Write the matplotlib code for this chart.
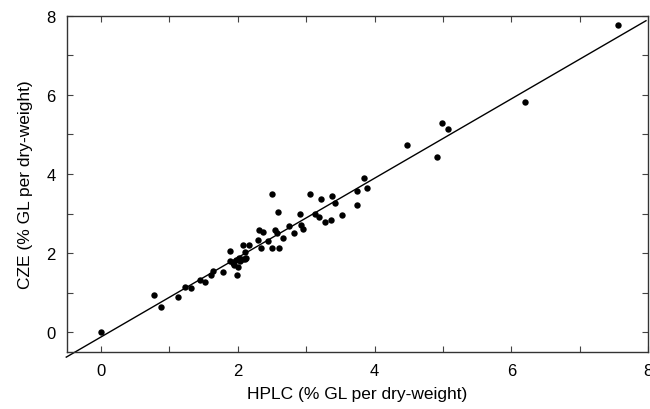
import matplotlib
matplotlib.use("Agg")
import matplotlib.pyplot as plt
import numpy as np

plt.rcParams['font.family'] = ['Liberation Sans', 'DejaVu Sans']

hplc = [0.00, 0.78, 0.87, 1.13, 1.23, 1.32, 1.44, 1.52, 1.61, 1.64, 1.78,
        1.88, 1.89, 1.93, 1.95, 1.97, 1.99, 2.00, 2.01, 2.03, 2.07, 2.07, 2.10,
        2.10, 2.12, 2.17, 2.29, 2.31, 2.34, 2.37, 2.44, 2.50, 2.50, 2.54, 2.57,
        2.58, 2.60, 2.66, 2.75, 2.82, 2.91, 2.93, 2.95, 3.06, 3.13, 3.19, 3.22,
        3.28, 3.36, 3.38, 3.42, 3.53, 3.74, 3.74, 3.85, 3.89, 4.47, 4.91, 4.99,
        5.07, 6.20, 7.56]
cze = [0.00, 0.94, 0.64, 0.88, 1.15, 1.13, 1.32, 1.28, 1.44, 1.55, 1.52,
       1.80, 2.06, 1.74, 1.70, 1.83, 1.44, 1.66, 1.87, 1.79, 1.86, 2.21, 2.03,
       1.84, 1.88, 2.20, 2.34, 2.59, 2.14, 2.53, 2.30, 3.49, 2.12, 2.59, 2.52,
       3.04, 2.12, 2.37, 2.69, 2.50, 2.99, 2.72, 2.61, 3.50, 2.99, 2.91, 3.38,
       2.78, 2.85, 3.45, 3.27, 2.96, 3.56, 3.22, 3.91, 3.64, 4.74, 4.43, 5.29,
       5.15, 5.81, 7.78]

fit_slope = 1.003
fit_intercept = -0.118
fit_x = [-0.51, 7.97]

fig = plt.figure(figsize=(6.5, 4.1), dpi=100)
ax = fig.add_axes([0.103, 0.139, 0.894, 0.820])

ax.plot(hplc, cze, 'o', color='black', markersize=4.6, markeredgewidth=0)
fx = np.array(fit_x)
ax.plot(fx, fit_slope * fx + fit_intercept, color='black', lw=1.0, clip_on=False)

ax.set_xlim(-0.5, 8)
ax.set_ylim(-0.5, 8)
ax.set_xticks([0, 2, 4, 6, 8])
ax.set_yticks([0, 2, 4, 6, 8])
ax.set_xticks([1, 3, 5, 7], minor=True)
ax.set_yticks([1, 3, 5, 7], minor=True)
ax.tick_params(which='both', direction='in', top=True, right=True, length=4,
               width=0.8, color='#444444', labelsize=12, pad=8)
for s in ax.spines.values():
    s.set_linewidth(1.0)
    s.set_color('#333333')

ax.set_xlabel('HPLC (% GL per dry-weight)', fontsize=12.5, labelpad=6)
ax.set_ylabel('CZE (% GL per dry-weight)', fontsize=12.5, labelpad=10)

fig.savefig('out.png', dpi=100)
